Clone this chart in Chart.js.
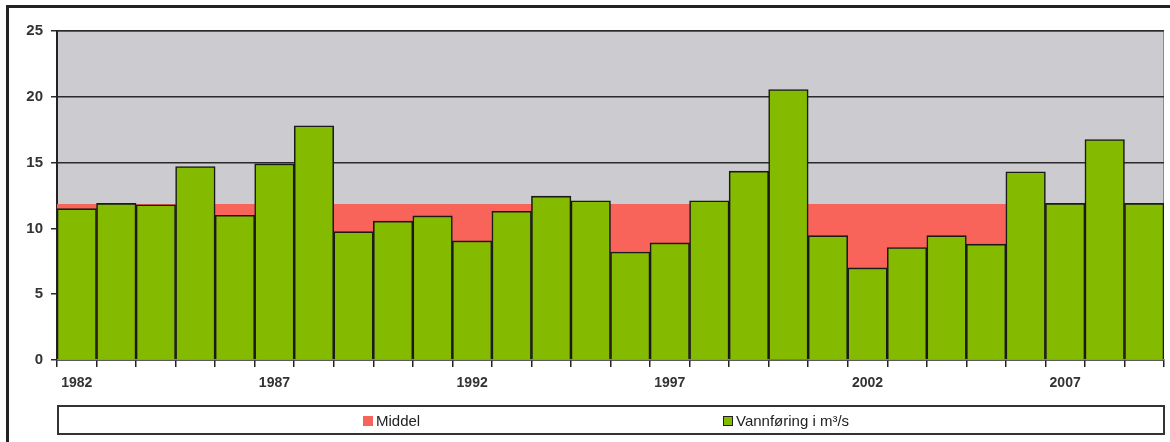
<!DOCTYPE html>
<html>
<head>
<meta charset="utf-8">
<script src="https://cdn.jsdelivr.net/npm/chart.js@4/dist/chart.umd.min.js"></script>
<style>
  body { margin: 0; background: #fff; font-family: "Liberation Sans", Arial, sans-serif; }
  #wrap { position: relative; width: 1170px; height: 442px; overflow: hidden; }
  #frame { position: absolute; left: 6px; top: 5px; width: 1200px; height: 500px; border: 3px solid #222; box-sizing: border-box; }
  canvas { position: absolute; left: 0; top: 0; }
  #legend { position: absolute; left: 57px; top: 405px; width: 1108px; height: 30px; border: 2px solid #333; box-sizing: border-box; font-size: 15px; color: #222; }
  .item { position: absolute; top: 5px; white-space: nowrap; }
  .sw { display: inline-block; width: 10px; height: 10px; margin-right: 3px; vertical-align: 0px; box-sizing: border-box; }
</style>
</head>
<body>
<div id="wrap">
  <div id="frame"></div>
  <canvas id="myChart" width="1170" height="442"></canvas>
  <div id="legend">
    <span class="item" style="left:304px"><span class="sw" style="background:#f9645a"></span>Middel</span>
    <span class="item" style="left:664px"><span class="sw" style="background:#84ba00;border:1.5px solid #222"></span>Vannføring i m³/s</span>
  </div>
</div>
<script>
var years = ["1982","1983","1984","1985","1986","1987","1988","1989","1990","1991",
             "1992","1993","1994","1995","1996","1997","1998","1999","2000","2001",
             "2002","2003","2004","2005","2006","2007","2008","2009"];

var vannforing = [11.5, 11.9, 11.8, 14.7, 11.0, 14.9, 17.8, 9.75, 10.55, 10.95,
                  9.05, 11.3, 12.45, 12.1, 8.2, 8.9, 12.1, 14.35, 20.55, 9.45,
                  7.0, 8.55, 9.45, 8.8, 14.3, 11.9, 16.75, 11.9];

var middel = [11.85, 11.85, 11.85, 11.85, 11.85, 11.85, 11.85, 11.85, 11.85, 11.85,
              11.85, 11.85, 11.85, 11.85, 11.85, 11.85, 11.85, 11.85, 11.85, 11.85,
              11.85, 11.85, 11.85, 11.85, 11.85, 11.85, 11.85, 11.85];

var yTicks = [0, 5, 10, 15, 20, 25];

// grey plot area behind everything
var plotBg = {
    id: "plotBg",
    beforeDraw: function (chart) {
        var a = chart.chartArea, c = chart.ctx;
        c.save();
        c.fillStyle = "#cbcbd0";
        c.fillRect(a.left, a.top, a.right - a.left, a.bottom - a.top);
        c.strokeStyle = "#8a8a8a";
        c.lineWidth = 1;
        c.strokeRect(a.left + 0.5, a.top + 0.5, a.right - a.left - 1, a.bottom - a.top - 1);
        c.restore();
    }
};

var ctx = document.getElementById("myChart").getContext("2d");

var myChart = new Chart(ctx, {
    type: "bar",
    data: {
        labels: years,
        datasets: [
            {
                label: "Middel",
                type: "line",
                data: middel,
                xAxisID: "x2",
                backgroundColor: "#f9645a",
                borderWidth: 0,
                pointRadius: 0,
                fill: "origin",
                order: 2,
            },
            {
                label: "Vannføring i m³/s",
                data: vannforing,
                backgroundColor: "#84ba00",
                borderColor: "#1a1a1a",
                borderWidth: 1.6,
                barPercentage: 1,
                categoryPercentage: 1,
                grouped: false,
                order: 1,
            },
        ],
    },
    options: {
        responsive: false,
        animation: false,
        layout: { padding: { top: 31, right: 6, left: 0, bottom: 0 } },
        plugins: {
            legend: { display: false },
            tooltip: { enabled: false },
        },
        scales: {
            x: {
                type: "category",
                offset: true,
                grid: {
                    offset: true,
                    drawOnChartArea: false,
                    color: "#222",
                    lineWidth: 1.5,
                    tickLength: 7,
                },
                border: { display: true, color: "#222", width: 1.5 },
                ticks: {
                    autoSkip: false,
                    maxRotation: 0,
                    padding: 8,
                    color: "#333",
                    font: { family: "Liberation Sans", size: 14, weight: "bold" },
                    callback: function (value, index) {
                        return index % 5 === 0 ? years[index] : "";
                    },
                },
                afterFit: function (axis) { axis.height = 82; },
            },
            x2: {
                type: "category",
                labels: years,
                offset: false,
                display: false,
            },
            y: {
                min: 0,
                max: 25,
                afterBuildTicks: function (axis) {
                    axis.ticks = yTicks.map(function (v) { return { value: v }; });
                },
                grid: {
                    color: "#2a2a2a",
                    lineWidth: 1.5,
                    tickLength: 6,
                },
                border: { display: true, color: "#222", width: 2 },
                ticks: {
                    padding: 8,
                    color: "#333",
                    font: { family: "Liberation Sans", size: 15, weight: "bold" },
                },
                afterFit: function (axis) { axis.width = 57; },
            },
        },
    },
    plugins: [plotBg],
});
</script>
</body>
</html>
